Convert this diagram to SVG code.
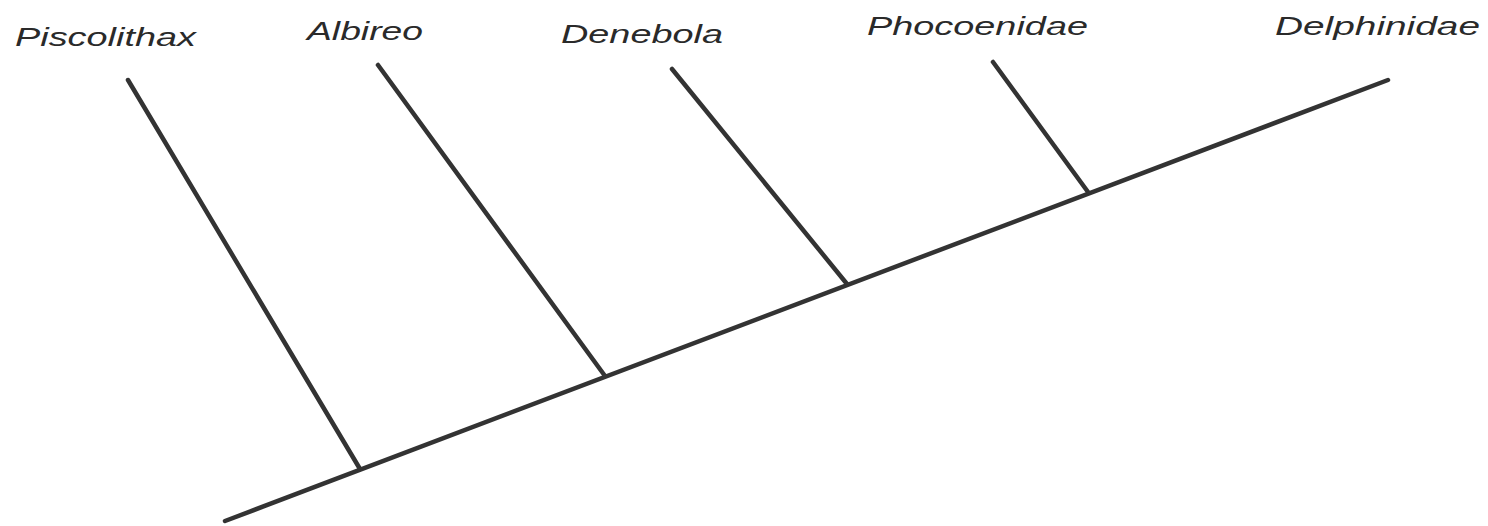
<svg xmlns="http://www.w3.org/2000/svg" width="1488" height="526" viewBox="0 0 1488 526">
<style>
.lbl{font-family:"Liberation Sans",Arial,sans-serif;font-style:italic;font-size:25px;fill:#2a2a2a}
.ln{stroke:#333;stroke-width:4.5;stroke-linecap:round;fill:none}
</style>
<rect width="1488" height="526" fill="#fff"/>
<g id="connectors">
<line class="ln" x1="225" y1="521" x2="1388" y2="80"/>
<line class="ln" x1="128" y1="80" x2="360" y2="469"/>
<line class="ln" x1="378" y1="65" x2="605" y2="376"/>
<line class="ln" x1="672" y1="69" x2="847" y2="284"/>
<line class="ln" x1="993" y1="62" x2="1088" y2="192"/>
</g>
<g id="piscolithax"><text class="lbl" x="15" y="46" textLength="181" lengthAdjust="spacingAndGlyphs">Piscolithax</text></g>
<g id="albireo"><text class="lbl" x="307" y="40" textLength="116" lengthAdjust="spacingAndGlyphs">Albireo</text></g>
<g id="denebola"><text class="lbl" x="561" y="43" textLength="162" lengthAdjust="spacingAndGlyphs">Denebola</text></g>
<g id="phocoenidae"><text class="lbl" x="867" y="35" textLength="221" lengthAdjust="spacingAndGlyphs">Phocoenidae</text></g>
<g id="delphinidae"><text class="lbl" x="1275" y="35" textLength="205" lengthAdjust="spacingAndGlyphs">Delphinidae</text></g>
</svg>
